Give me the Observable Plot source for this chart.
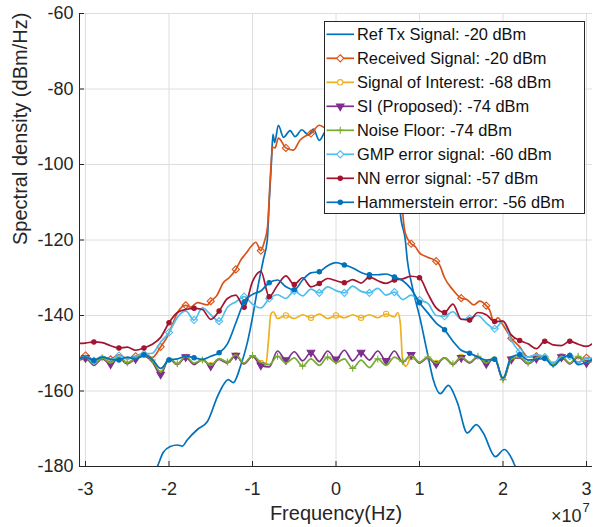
<!DOCTYPE html>
<html>
<head>
<meta charset="utf-8">
<script src="https://cdn.jsdelivr.net/npm/d3@7"></script>
<script src="https://cdn.jsdelivr.net/npm/@observablehq/plot@0.6"></script>
<style>
  body { margin: 0; background: #fff; }
  #wrap { position: relative; width: 594px; height: 527px; font-family: "Liberation Sans", Arial, sans-serif; }
</style>
</head>
<body>
<div id="wrap"></div>
<script>
// Frequencies are in units of 1e7 Hz (axis shows "x10^7")
const xLimits = [-3.072, 3.072];
const yLimits = [-180, -60];
const xTicks = [-3, -2, -1, 0, 1, 2, 3];
const yTicks = [-180, -160, -140, -120, -100, -80, -60];
const axisTitles = ["Frequency(Hz)", "Spectral density (dBm/Hz)"];
const exponentText = ["\u00d710", "7"];

const legendLabels = [
  "Ref Tx Signal: -20 dBm",
  "Received Signal: -20 dBm",
  "Signal of Interest: -68 dBm",
  "SI (Proposed): -74 dBm",
  "Noise Floor: -74 dBm",
  "GMP error signal: -60 dBm",
  "NN error signal: -57 dBm",
  "Hammerstein error: -56 dBm"
];
const colors = ["#0072BD", "#D95319", "#EDB120", "#7E2F8E", "#77AC30", "#4DBEEE", "#A2142F", "#0072BD"];

// Shared frequency grid for the noise-like curves
const freqGrid = [
  -3.1, -3.0, -2.9, -2.8, -2.7, -2.6, -2.5, -2.4, -2.3, -2.2,
  -2.1, -2.0, -1.9, -1.8, -1.7, -1.6, -1.5, -1.4, -1.3, -1.2,
  -1.1, -1.0, -0.9, -0.8, -0.7, -0.6, -0.5, -0.4, -0.3, -0.2,
  -0.1, 0.0, 0.1, 0.2, 0.3, 0.4, 0.5, 0.6, 0.7, 0.8,
  0.9, 1.0, 1.1, 1.2, 1.3, 1.4, 1.5, 1.6, 1.7, 1.8,
  1.9, 2.0, 2.1, 2.2, 2.3, 2.4, 2.5, 2.6, 2.7, 2.8,
  2.9, 3.0, 3.1
];

const noisePsd = [
  -152.0, -151.0, -152.8, -151.2, -152.6, -151.0, -152.5, -151.3, -150.6, -151.8,
  -155.0, -151.2, -152.8, -150.8, -152.6, -151.8, -153.2, -151.4, -152.3, -150.4,
  -152.6, -150.6, -152.4, -153.0, -150.8, -152.6, -151.2, -153.4, -151.5, -153.2,
  -151.0, -152.5, -151.5, -154.0, -151.8, -153.8, -151.5, -153.2, -151.0, -152.2,
  -150.6, -152.4, -151.0, -152.6, -151.2, -152.8, -151.0, -152.4, -150.8, -152.6,
  -151.0, -157.0, -151.5, -151.0, -152.6, -151.2, -150.6, -153.0, -150.8, -152.6,
  -150.8, -152.4, -151.5
];

const siPsd = [
  -152.2, -151.2, -153.2, -151.4, -152.9, -151.2, -152.8, -151.5, -150.8, -152.2,
  -155.6, -151.4, -153.0, -151.0, -153.0, -151.6, -153.4, -151.6, -152.6, -150.6,
  -152.8, -150.8, -153.2, -153.6, -149.4, -151.8, -149.6, -152.0, -149.8, -152.2,
  -149.4, -151.6, -149.2, -152.0, -149.8, -151.8, -149.4, -152.0, -149.4, -152.4,
  -150.4, -152.6, -151.2, -152.8, -151.2, -153.0, -151.2, -152.6, -151.0, -152.8,
  -151.2, -157.2, -151.6, -151.2, -152.8, -151.4, -150.8, -153.2, -151.0, -152.8,
  -151.0, -152.6, -151.6
];

const gmpPsd = [
  -151.8, -150.8, -152.0, -150.8, -151.8, -150.6, -151.6, -150.8, -150.2, -150.0,
  -147.0, -144.5, -140.5, -138.8, -141.2, -138.0, -139.8, -141.5, -137.8, -136.4,
  -135.0, -137.0, -138.0, -135.5, -134.5, -135.5, -133.5, -134.8, -133.0, -134.0,
  -132.4, -133.4, -134.0, -132.2, -133.6, -134.0, -132.8, -134.6, -133.8, -135.8,
  -134.6, -135.9, -136.8, -140.0, -140.2, -139.0, -141.0, -140.8, -140.0, -142.0,
  -143.5, -141.5, -146.6, -149.6, -151.0, -150.4, -151.0, -152.6, -151.0, -150.8,
  -152.6, -151.2, -151.5
];

const nnPsd = [
  -147.4, -147.3, -147.0, -147.2, -148.0, -148.6, -148.4, -149.2, -148.6, -147.6,
  -145.8, -141.9, -139.2, -138.4, -138.1, -138.4, -141.0, -138.8, -135.5, -134.6,
  -137.8, -131.0, -128.3, -135.0, -132.0, -129.5, -131.8, -130.0, -132.4, -131.5,
  -130.2, -130.8, -131.3, -130.5, -131.4, -129.8, -130.8, -131.5, -130.6, -130.3,
  -129.6, -130.0, -134.2, -138.0, -139.2, -137.0, -141.0, -141.2, -139.2, -139.8,
  -141.6, -141.5, -145.2, -146.6, -147.5, -148.8, -146.8, -147.8, -148.0, -146.8,
  -147.6, -148.2, -147.0
];

const hamPsd = [
  -151.6, -151.0, -151.9, -151.0, -151.6, -151.8, -151.0, -151.6, -150.4, -151.6,
  -154.0, -151.8, -151.5, -150.8, -151.2, -151.6, -150.8, -149.9, -147.5, -142.0,
  -136.4, -134.4, -133.5, -131.3, -130.6, -132.4, -133.2, -130.6, -128.7, -128.4,
  -126.8, -126.0, -126.6, -127.4, -128.6, -129.2, -129.2, -129.0, -129.8, -130.8,
  -133.0, -136.6, -139.3, -142.0, -143.8, -146.8, -149.2, -150.0, -151.0, -151.8,
  -151.6, -156.6, -151.0, -150.4, -151.8, -151.6, -151.4, -153.4, -151.4, -150.6,
  -153.0, -152.4, -151.2
];

// Reference transmit signal (own sampling)
const refFreq = [
  -2.3, -2.14, -2.07, -1.985, -1.9, -1.84, -1.78, -1.66, -1.54, -1.42,
  -1.36, -1.29, -1.23, -1.146, -1.062, -0.99, -0.942, -0.871, -0.823, -0.799,
  -0.775, -0.755, -0.735, -0.69, -0.63, -0.55, -0.49, -0.41, -0.33, -0.27,
  -0.2, -0.12, -0.05, 0.05, 0.15, 0.25, 0.35, 0.45, 0.55, 0.65,
  0.72, 0.75, 0.77, 0.83, 0.854, 0.914, 1.01, 1.093, 1.165, 1.249,
  1.345, 1.453, 1.572, 1.68, 1.764, 1.908, 2.016, 2.111, 2.147, 2.3
];
const refPsd = [
  -184.0, -180.0, -176.3, -174.7, -174.3, -174.6, -172.9, -170.2, -168.1, -161.5,
  -158.8, -157.0, -157.8, -153.6, -147.2, -139.3, -133.2, -125.3, -120.0, -109.4,
  -100.0, -92.0, -94.2, -89.6, -92.8, -91.0, -92.6, -90.8, -92.2, -90.6,
  -93.6, -91.2, -91.8, -90.6, -92.0, -90.8, -92.2, -90.6, -92.0, -90.8,
  -92.5, -100.0, -112.8, -120.0, -125.3, -132.4, -141.1, -149.8, -157.0, -160.7,
  -158.5, -163.0, -171.1, -168.9, -171.1, -177.4, -175.5, -178.2, -180.0, -184.0
];

// Received signal (own sampling)
const recFreq = [
  -3.1, -3.0, -2.9, -2.8, -2.7, -2.6, -2.5, -2.4, -2.3, -2.2,
  -2.16, -2.1, -2.02, -1.97, -1.9, -1.8, -1.74, -1.66, -1.54, -1.5,
  -1.43, -1.35, -1.28, -1.2, -1.14, -1.08, -1.02, -0.96, -0.9, -0.86,
  -0.82, -0.79, -0.76, -0.73, -0.69, -0.6, -0.51, -0.43, -0.36, -0.3,
  -0.2, -0.1, 0.0, 0.1, 0.2, 0.3, 0.4, 0.5, 0.6, 0.7,
  0.75, 0.78, 0.8, 0.83, 0.9, 0.95, 1.0, 1.09, 1.2, 1.24,
  1.3, 1.4, 1.5, 1.57, 1.65, 1.72, 1.8, 1.84, 1.89, 1.94,
  2.0, 2.1, 2.2, 2.3, 2.4, 2.5, 2.6, 2.7, 2.8, 2.9,
  3.0, 3.1
];
const recPsd = [
  -151.6, -150.6, -151.8, -150.8, -151.6, -150.4, -151.4, -150.8, -150.0, -151.2,
  -150.4, -148.3, -145.6, -143.0, -139.3, -137.3, -137.8, -136.6, -137.2, -136.2,
  -134.8, -131.3, -130.0, -127.8, -125.3, -123.6, -121.8, -120.6, -122.8, -120.6,
  -116.5, -104.9, -95.4, -95.6, -93.0, -95.6, -96.2, -93.5, -92.4, -91.8,
  -89.6, -90.6, -89.6, -90.8, -89.8, -91.0, -89.8, -90.8, -89.8, -91.0,
  -95.0, -105.0, -112.8, -118.2, -121.0, -121.8, -123.4, -124.5, -125.6, -126.6,
  -130.0, -133.2, -135.4, -135.8, -137.2, -136.2, -137.4, -138.6, -141.6, -140.6,
  -142.5, -146.0, -148.3, -151.0, -150.8, -151.2, -152.6, -151.2, -150.8, -152.4,
  -151.2, -151.6
];

// Signal of interest (own sampling)
const soiFreq = [
  -3.1, -3.0, -2.9, -2.8, -2.7, -2.6, -2.5, -2.4, -2.3, -2.2,
  -2.1, -2.0, -1.9, -1.8, -1.7, -1.6, -1.5, -1.4, -1.3, -1.2,
  -1.1, -1.0, -0.9, -0.84, -0.81, -0.78, -0.75, -0.7, -0.6, -0.5,
  -0.4, -0.3, -0.2, -0.1, 0.0, 0.1, 0.2, 0.3, 0.4, 0.5,
  0.6, 0.7, 0.74, 0.77, 0.8, 0.84, 0.9, 1.0, 1.1, 1.2,
  1.3, 1.4, 1.5, 1.6, 1.7, 1.8, 1.9, 2.0, 2.1, 2.2,
  2.3, 2.4, 2.5, 2.6, 2.7, 2.8, 2.9, 3.0, 3.1
];
const soiPsd = [
  -152.0, -151.4, -152.6, -151.4, -152.4, -151.2, -152.4, -151.4, -150.8, -152.4,
  -155.2, -151.4, -152.8, -151.0, -152.8, -151.8, -153.2, -151.4, -152.4, -150.6,
  -152.8, -150.8, -152.6, -153.0, -147.0, -139.6, -139.0, -140.8, -140.0, -140.8,
  -139.8, -140.6, -139.6, -140.8, -140.0, -140.6, -139.8, -140.6, -139.8, -140.6,
  -139.6, -140.4, -139.2, -142.0, -152.4, -153.4, -151.0, -152.4, -151.0, -152.6,
  -151.2, -152.8, -151.0, -152.4, -150.8, -152.6, -151.0, -157.0, -151.5, -151.0,
  -152.6, -151.2, -150.6, -153.0, -150.8, -152.6, -150.8, -152.4, -151.5
];

const series = [
  {label: legendLabels[0], color: colors[0], freq: refFreq, psd: refPsd, marker: null},
  {label: legendLabels[1], color: colors[1], freq: recFreq, psd: recPsd, marker: {symbol: "diamond2", r: 3.2, filled: false, offset: -3.0}},
  {label: legendLabels[2], color: colors[2], freq: soiFreq, psd: soiPsd, marker: {symbol: "circle", r: 2.7, filled: false, offset: -3.0}},
  {label: legendLabels[3], color: colors[3], freq: freqGrid, psd: siPsd, marker: {symbol: "triangle", r: 2.8, filled: true, rotate: 180, offset: -3.0}},
  {label: legendLabels[4], color: colors[4], freq: freqGrid, psd: noisePsd, marker: {symbol: "plus", r: 2.4, filled: false, offset: -3.1}},
  {label: legendLabels[5], color: colors[5], freq: freqGrid, psd: gmpPsd, marker: {symbol: "diamond2", r: 3.2, filled: false, offset: -2.9}},
  {label: legendLabels[6], color: colors[6], freq: freqGrid, psd: nnPsd, marker: {symbol: "circle", r: 2.2, filled: true, offset: -2.9}},
  {label: legendLabels[7], color: colors[7], freq: freqGrid, psd: hamPsd, marker: {symbol: "circle", r: 2.2, filled: true, offset: -2.9}}
];

function onMarkerGrid(f, offset) {
  const k = (f - offset) / 0.3;
  return Math.abs(k - Math.round(k)) < 0.02;
}

const ink = "#262626";
const marks = [
  Plot.gridX({ticks: xTicks, stroke: "#dedede", strokeOpacity: 1}),
  Plot.gridY({ticks: yTicks, stroke: "#dedede", strokeOpacity: 1})
];

for (const s of series) {
  const rows = s.freq.map((f, i) => ({f, p: s.psd[i]}));
  marks.push(Plot.line(rows, {x: "f", y: "p", stroke: s.color, strokeWidth: 1.7, curve: "monotone-x", clip: true}));
  if (s.marker) {
    const m = s.marker;
    const pts = rows.filter(d => onMarkerGrid(d.f, m.offset) && d.f >= xLimits[0] && d.f <= xLimits[1]);
    marks.push(Plot.dot(pts, {
      x: "f", y: "p", symbol: m.symbol, r: m.r,
      stroke: s.color, strokeWidth: 1.1,
      fill: m.filled ? s.color : "none",
      rotate: m.rotate || 0, clip: true
    }));
  }
}

marks.push(
  Plot.ruleX([xLimits[0]], {stroke: ink, strokeWidth: 1}),
  Plot.ruleY([yLimits[0]], {stroke: ink, strokeWidth: 1}),
  Plot.axisX({ticks: xTicks, tickSize: -5, tickPadding: 21, tickFormat: d => String(d), stroke: ink, fill: ink, fontSize: 18, label: null}),
  Plot.axisY({ticks: yTicks, tickSize: -5, tickPadding: 11, tickFormat: d => String(d), stroke: ink, fill: ink, fontSize: 18, label: null}),
  Plot.text([axisTitles[0]], {frameAnchor: "bottom", dy: 47, text: d => d, fontSize: 20, fill: ink, lineAnchor: "middle"}),
  Plot.text([axisTitles[1]], {frameAnchor: "left", dx: -59, dy: 5, rotate: -90, text: d => d, fontSize: 20, fill: ink, lineAnchor: "middle"}),
  Plot.text([exponentText[0]], {frameAnchor: "bottom-right", dx: -11, dy: 50, text: d => d, fontSize: 18, fill: ink, textAnchor: "end", lineAnchor: "middle"}),
  Plot.text([exponentText[1]], {frameAnchor: "bottom-right", dx: -10, dy: 41, text: d => d, fontSize: 13, fill: ink, textAnchor: "start", lineAnchor: "middle"})
);

const chart = Plot.plot({
  width: 594,
  height: 527,
  marginLeft: 79,
  marginRight: 2,
  marginTop: 13,
  marginBottom: 61,
  x: {domain: xLimits},
  y: {domain: yLimits},
  style: {fontFamily: "'Liberation Sans', Arial, sans-serif", fontSize: "18px", background: "white", color: ink, overflow: "visible"},
  marks
});
const wrap = document.getElementById("wrap");
wrap.appendChild(chart);

// Legend box inside the axes (top right)
const symbolTypes = {diamond2: d3.symbolDiamond2, circle: d3.symbolCircle, triangle: d3.symbolTriangle, plus: d3.symbolPlus};
const leg = d3.select(wrap).append("svg")
  .attr("width", 262).attr("height", 194)
  .style("position", "absolute").style("left", "324px").style("top", "21px");
leg.append("rect").attr("x", 0.5).attr("y", 0.5).attr("width", 260).attr("height", 192)
  .attr("fill", "white").attr("stroke", ink).attr("stroke-width", 1);
series.forEach((s, i) => {
  const cy = 13.3 + 24 * i;
  const g = leg.append("g");
  g.append("line").attr("x1", 2.5).attr("x2", 30).attr("y1", cy).attr("y2", cy)
    .attr("stroke", s.color).attr("stroke-width", 1.7);
  if (s.marker) {
    const m = s.marker;
    const sym = d3.symbol(symbolTypes[m.symbol], Math.PI * m.r * m.r)();
    g.append("path").attr("d", sym)
      .attr("transform", `translate(16.25,${cy}) rotate(${m.rotate || 0})`)
      .attr("fill", m.filled ? s.color : (m.symbol === "plus" ? "none" : "white"))
      .attr("stroke", s.color).attr("stroke-width", 1.1);
  }
  g.append("text").attr("x", 33).attr("y", cy).attr("dy", "0.35em")
    .attr("font-family", "'Liberation Sans', Arial, sans-serif").attr("font-size", 16.4)
    .attr("fill", "#111").text(s.label);
});
</script>
</body>
</html>
